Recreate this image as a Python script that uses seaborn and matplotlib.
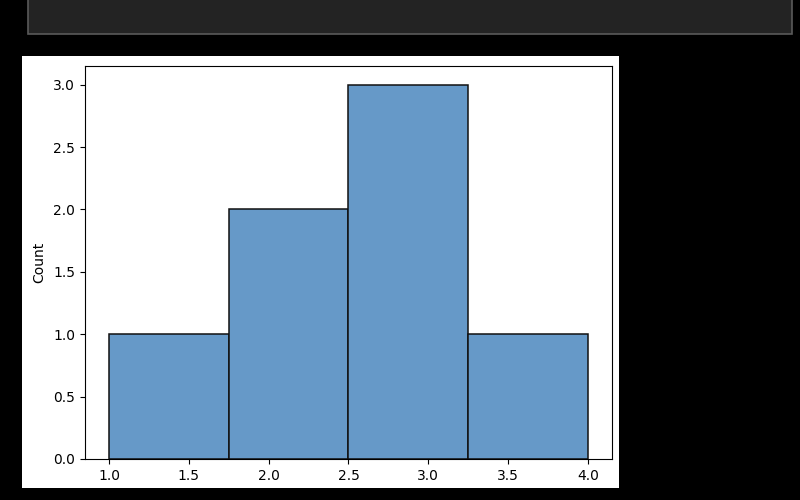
import matplotlib
matplotlib.use("Agg")
import matplotlib.pyplot as plt
from matplotlib.patches import Rectangle
import seaborn as sns

# data
values = [1, 2, 2, 3, 3, 3, 4]
n_bins = 4

W, H = 800, 500
fig = plt.figure(figsize=(8, 5), dpi=100, facecolor="black")

def fx(px):
    return px / W

def fy(py):
    return 1 - py / H

# top dark bar (notebook cell)
fig.patches.append(Rectangle((fx(28), fy(34)), fx(792) - fx(28), fy(-5) - fy(34),
                             transform=fig.transFigure, facecolor="#232323",
                             edgecolor="#5a5a5a", linewidth=1.2, zorder=-10))
# white figure region
fig.patches.append(Rectangle((fx(22), fy(488)), fx(619) - fx(22), fy(56) - fy(488),
                             transform=fig.transFigure, facecolor="white",
                             edgecolor="none", zorder=-10))

ax = fig.add_axes([fx(85), fy(459), fx(612) - fx(85), fy(66) - fy(459)])
ax.set_zorder(5)
sns.histplot(x=values, bins=n_bins, ax=ax, color="#6699c8", alpha=1.0,
             edgecolor="#111111", linewidth=1.1)
ax.set_ylabel("Count", fontsize=10, labelpad=5)
ax.tick_params(labelsize=10)

fig.savefig("out.png", dpi=100, facecolor="black")
